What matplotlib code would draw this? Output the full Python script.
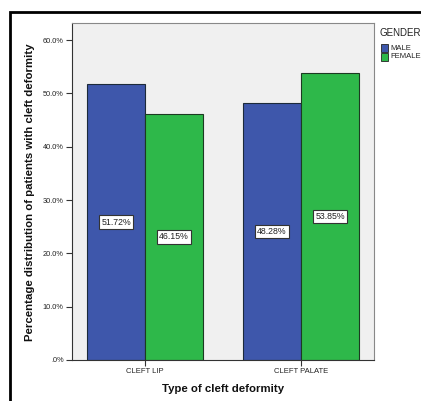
import matplotlib
matplotlib.use("Agg")
import matplotlib.pyplot as plt
from matplotlib.patches import Rectangle
import numpy as np

plt.rcParams["font.family"] = ["Liberation Sans", "DejaVu Sans"]

categories = ["CLEFT LIP", "CLEFT PALATE"]
male = [51.72, 48.28]
female = [46.15, 53.85]
series_names = ["MALE", "FEMALE"]
yticks = [0, 10, 20, 30, 40, 50, 60]
ytick_labels = [".0%", "10.0%", "20.0%", "30.0%", "40.0%", "50.0%", "60.0%"]

W, H = 421, 401
fig = plt.figure(figsize=(W / 100, H / 100), dpi=100)
fig.patch.set_facecolor("white")

# outer frame
fig.patches.append(Rectangle((10 / W, -0.05), 1.1, (H - 12) / H + 0.05, transform=fig.transFigure,
                             fill=False, edgecolor="black", linewidth=2))

ax = fig.add_axes([72 / W, 1 - 360 / H, (374 - 72) / W, (360 - 23) / H])
ax.set_facecolor("#F0F0F0")

x = np.arange(len(categories))
bw = 0.372
blue = "#3E57AB"
green = "#2EB84A"
b1 = ax.bar(x - bw / 2, male, bw, color=blue, edgecolor="#1c2a3a", linewidth=0.8, label=series_names[0])
b2 = ax.bar(x + bw / 2, female, bw, color=green, edgecolor="#1c3a22", linewidth=0.8, label=series_names[1])

for bars, vals in ((b1, male), (b2, female)):
    for r, v in zip(bars, vals):
        ax.text(r.get_x() + r.get_width() / 2, v / 2, f"{v:.2f}%", ha="center", va="center",
                fontsize=6.3, color="#222222",
                bbox=dict(boxstyle="square,pad=0.25", facecolor="white", edgecolor="#333333", linewidth=0.8))

ax.set_xlim(-0.468, 1.468)
ax.set_ylim(0, 63.2)
ax.set_yticks(yticks)
ax.set_yticklabels(ytick_labels, fontsize=5.3, color="#222222")
ax.set_xticks(x)
ax.set_xticklabels(categories, fontsize=5.5, color="#222222")
ax.tick_params(axis="both", length=4, width=0.8, color="#333333", pad=2)
for s in ax.spines.values():
    s.set_color("#888888")
    s.set_linewidth(0.8)
ax.spines["left"].set_color("#333333")
ax.spines["bottom"].set_color("#333333")

fig.text(30 / W, 1 - 192 / H, "Percentage distribution of patients with cleft deformity", rotation=90,
         ha="center", va="center", fontsize=8.2, fontweight="bold", color="#111111")
fig.text(223 / W, 1 - 389 / H, "Type of cleft deformity", ha="center", va="center",
         fontsize=8.2, fontweight="bold", color="#111111")

# legend
fig.text(380 / W, 1 - 33 / H, "GENDER", ha="left", va="center", fontsize=7, color="#222222")
for i, (name, col) in enumerate(zip(series_names, [blue, green])):
    yc = 48 + i * 9
    fig.patches.append(Rectangle((381 / W, 1 - (yc + 3.5) / H), 7 / W, 7 / H, transform=fig.transFigure,
                                 facecolor=col, edgecolor="#222222", linewidth=0.6))
    fig.text(390 / W, 1 - yc / H, name, ha="left", va="center", fontsize=5.5, color="#222222")

fig.savefig("out.png", dpi=100)
